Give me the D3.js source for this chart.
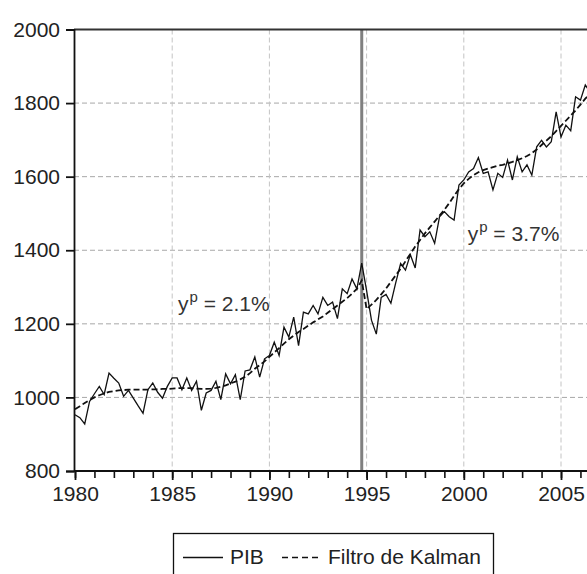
<!DOCTYPE html>
<html>
<head>
<meta charset="utf-8">
<script src="https://cdn.jsdelivr.net/npm/d3@7/dist/d3.min.js"></script>
<style>
  html, body { margin: 0; padding: 0; background: #fff; }
  svg { display: block; font-family: "Liberation Sans", Arial, sans-serif; }
</style>
</head>
<body>
<svg id="chart" width="587" height="574"></svg>
<script>
// ---- data (quarterly, starting 1980Q1) ----
const startYear = 1980;
const pibValues = [
  953, 945, 928, 989,   1010, 1030, 1008, 1066,  1052, 1039, 1003, 1019,
  998, 977, 957, 1021,  1039, 1014, 998, 1030,   1053, 1053, 1021, 1053,
  1019, 1044, 965, 1012, 1019, 1044, 994, 1064,  1037, 1062, 994, 1072,
  1075, 1110, 1055, 1105, 1114, 1150, 1114, 1191, 1164, 1218, 1141, 1232,
  1227, 1250, 1227, 1272, 1250, 1259, 1214, 1295, 1282, 1322, 1295, 1365,
  1290, 1210, 1172, 1272, 1280, 1256, 1312, 1364, 1346, 1388, 1352, 1455,
  1437, 1450, 1419, 1491, 1505, 1491, 1482, 1577, 1591, 1613, 1622, 1652,
  1609, 1613, 1564, 1609, 1598, 1645, 1591, 1654, 1613, 1632, 1604, 1681,
  1699, 1681, 1695, 1776, 1708, 1740, 1725, 1817, 1808, 1849, 1830
];
const kalmanValues = [
  968, 976, 985, 993,   1000, 1006, 1011, 1015,  1017, 1019, 1020, 1021,
  1021, 1021, 1021, 1021, 1022, 1022, 1023, 1023, 1024, 1025, 1025, 1025,
  1025, 1024, 1023, 1023, 1024, 1026, 1029, 1033, 1038, 1043, 1049, 1056,
  1066, 1078, 1088, 1098, 1110, 1122, 1134, 1146, 1158, 1168, 1178, 1186,
  1195, 1204, 1212, 1220, 1230, 1240, 1250, 1260, 1270, 1282, 1295, 1318,
  1240, 1252, 1265, 1280, 1296, 1314, 1332, 1350, 1370, 1390, 1410, 1428,
  1446, 1462, 1478, 1494, 1510, 1528, 1548, 1566, 1582, 1594, 1604, 1612,
  1618, 1622, 1626, 1630, 1632, 1636, 1640, 1645, 1650, 1656, 1664, 1674,
  1686, 1698, 1710, 1724, 1738, 1752, 1766, 1780, 1796, 1812, 1826
];
const yTicks = [800, 1000, 1200, 1400, 1600, 1800, 2000];
const yGrid = [1000, 1200, 1400, 1600, 1800];
const xMajorTicks = [1980, 1985, 1990, 1995, 2000, 2005];
const xGrid = [1985, 1990, 1995, 2000, 2005];
const xMinorTicks = d3.range(1980, 2011, 1);
const breakYear = 1994.75;
const annotations = [
  { year: 1985.3, value: 1235, pct: "2.1%" },
  { year: 2000.2, value: 1425, pct: "3.7%" }
];
const legendItems = ["PIB", "Filtro de Kalman"];

// ---- layout ----
const svg = d3.select("#chart");
const plotLeft = 74, plotTop = 29.5, plotBottom = 471, plotRight = 680;
const x = d3.scaleLinear().domain([1980, 2005]).range([75, 561]);
const y = d3.scaleLinear().domain([800, 2000]).range([plotBottom, plotTop]);
const FONT = 21;
const TEXT = "#222";

const pib = pibValues.map((v, i) => ({ t: startYear + i / 4, v }));
const kal = kalmanValues.map((v, i) => ({ t: startYear + i / 4, v }));

svg.append("defs").append("clipPath").attr("id", "plot")
  .append("rect").attr("x", plotLeft).attr("y", plotTop)
  .attr("width", plotRight - plotLeft).attr("height", plotBottom - plotTop);

// grid
svg.append("g").selectAll("line").data(yGrid).join("line")
  .attr("x1", plotLeft).attr("x2", plotRight)
  .attr("y1", d => y(d)).attr("y2", d => y(d))
  .attr("stroke", "#a8a8a8").attr("stroke-width", 1).attr("stroke-dasharray", "5,3");
svg.append("g").selectAll("line").data(xGrid).join("line")
  .attr("x1", d => x(d)).attr("x2", d => x(d))
  .attr("y1", plotTop).attr("y2", plotBottom)
  .attr("stroke", "#c4c4c4").attr("stroke-width", 1).attr("stroke-dasharray", "5,3");

// break line
svg.append("line")
  .attr("x1", x(breakYear)).attr("x2", x(breakYear))
  .attr("y1", plotTop).attr("y2", plotBottom)
  .attr("stroke", "#808080").attr("stroke-width", 3);

// series
const line = d3.line().x(d => x(d.t)).y(d => y(d.v));
const g = svg.append("g").attr("clip-path", "url(#plot)");
g.append("path").datum(kal).attr("d", line)
  .attr("fill", "none").attr("stroke", "#111").attr("stroke-width", 1.8)
  .attr("stroke-dasharray", "6,3");
g.append("path").datum(pib).attr("d", line)
  .attr("fill", "none").attr("stroke", "#111").attr("stroke-width", 1.3);

// frame: top line
svg.append("line").attr("x1", plotLeft).attr("x2", plotRight).attr("y1", plotTop).attr("y2", plotTop)
  .attr("stroke", "#333").attr("stroke-width", 1.8);

// y axis
const yAxis = d3.axisLeft(y).tickValues(yTicks).tickSize(8).tickPadding(6).tickFormat(d3.format("d"));
const ya = svg.append("g").attr("transform", `translate(${plotLeft},0)`).call(yAxis);
ya.select(".domain").attr("stroke", "#111").attr("stroke-width", 1.8);
ya.selectAll(".tick line").attr("stroke", "#111").attr("stroke-width", 1.8);
ya.selectAll("text").attr("font-size", FONT).attr("fill", TEXT)
  .attr("font-family", "Liberation Sans, Arial, sans-serif");

// x axis minor
const xMinor = d3.axisBottom(x).tickValues(xMinorTicks).tickSize(7).tickFormat("");
const xm = svg.append("g").attr("transform", `translate(0,${plotBottom})`).call(xMinor);
xm.select(".domain").remove();
xm.selectAll(".tick line").attr("stroke", "#111").attr("stroke-width", 1.6);
// x axis major
const xAxis = d3.axisBottom(x).tickValues(xMajorTicks).tickSize(9).tickPadding(6).tickFormat(d3.format("d"));
const xa = svg.append("g").attr("transform", `translate(0,${plotBottom})`).call(xAxis);
xa.select(".domain").attr("stroke", "#111").attr("stroke-width", 1.8)
  .attr("d", `M${plotLeft},0H${plotRight}`);
xa.selectAll(".tick line").attr("stroke", "#111").attr("stroke-width", 1.8);
xa.selectAll("text").attr("font-size", FONT).attr("fill", TEXT)
  .attr("font-family", "Liberation Sans, Arial, sans-serif");

// annotations y^p = ...
annotations.forEach(a => {
  const t = svg.append("text")
    .attr("x", x(a.year)).attr("y", y(a.value))
    .attr("font-size", FONT).attr("fill", "#333");
  t.append("tspan").text("y");
  t.append("tspan").attr("font-size", 15).attr("dy", -9).attr("dx", 1).text("p");
  t.append("tspan").attr("dy", 9).text(" = " + a.pct);
});

// legend
const lg = svg.append("g");
lg.append("rect").attr("x", 173.5).attr("y", 533.5).attr("width", 320).attr("height", 70)
  .attr("fill", "#fff").attr("stroke", "#111").attr("stroke-width", 1.3);
lg.append("line").attr("x1", 183).attr("x2", 223).attr("y1", 557.5).attr("y2", 557.5)
  .attr("stroke", "#111").attr("stroke-width", 1.3);
lg.append("text").attr("x", 230).attr("y", 564).attr("font-size", FONT).attr("fill", TEXT).text(legendItems[0]);
lg.append("line").attr("x1", 282).attr("x2", 319).attr("y1", 557.5).attr("y2", 557.5)
  .attr("stroke", "#111").attr("stroke-width", 1.3).attr("stroke-dasharray", "6,4");
lg.append("text").attr("x", 328).attr("y", 564).attr("font-size", FONT).attr("fill", TEXT).text(legendItems[1]);
</script>
</body>
</html>
